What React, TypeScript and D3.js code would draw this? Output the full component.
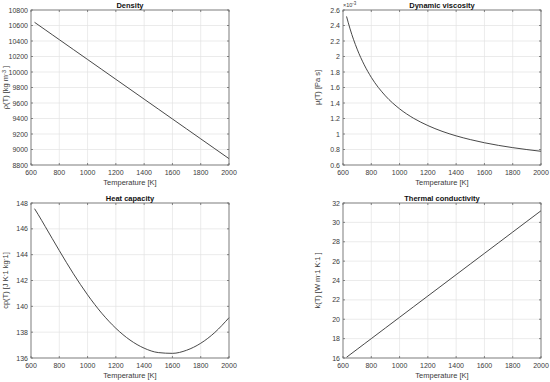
import React, { useEffect, useRef } from 'react';
import * as d3 from 'd3';

// temperature samples [K]
const temps = [625, 650, 700, 750, 800, 900, 1000, 1100, 1200, 1300, 1400, 1500, 1600, 1700, 1800, 1900, 2000];

const density = [10641.3, 10609.3, 10545.4, 10481.4, 10417.4, 10289.5, 10161.5, 10033.6, 9905.6, 9777.7, 9649.7, 9521.8, 9393.8, 9265.9, 9137.9, 9010.0, 8882.0];
// in units of 1e-3 Pa s
const viscosity = [2.517, 2.356, 2.095, 1.893, 1.731, 1.492, 1.325, 1.202, 1.109, 1.035, 0.976, 0.928, 0.887, 0.853, 0.824, 0.799, 0.777];
const heatCapacity = [147.56, 147.12, 146.19, 145.25, 144.32, 142.52, 140.89, 139.47, 138.3, 137.39, 136.76, 136.42, 136.36, 136.6, 137.14, 137.98, 139.12];
const conductivity = [16.075, 16.35, 16.9, 17.45, 18.0, 19.1, 20.2, 21.3, 22.4, 23.5, 24.6, 25.7, 26.8, 27.9, 29.0, 30.1, 31.2];

const xTicks = [600, 800, 1000, 1200, 1400, 1600, 1800, 2000];
const densityTicks = d3.range(8800, 10801, 200);
const viscTicks = [0.6, 0.8, 1, 1.2, 1.4, 1.6, 1.8, 2, 2.2, 2.4, 2.6];
const cpTicks = [136, 138, 140, 142, 144, 146, 148];
const kTicks = [16, 18, 20, 22, 24, 26, 28, 30, 32];

const titles = ['Density', 'Dynamic viscosity', 'Heat capacity', 'Thermal conductivity'];

const FONT = '"Liberation Sans", Arial, sans-serif';

const App = () => {
  const ref = useRef<SVGSVGElement>(null);

  useEffect(() => {
    const svg = d3.select(ref.current);
    svg.selectAll('*').remove();

    const panels = [
      { title: titles[0], values: density, ticks: densityTicks, left: 31, top: 10, ylab: ['ρ(T) [kg m', '-3', ' ]'], exp: false },
      { title: titles[1], values: viscosity, ticks: viscTicks, left: 343, top: 10, ylab: ['μ(T) [Pa s]'], exp: true },
      { title: titles[2], values: heatCapacity, ticks: cpTicks, left: 31, top: 203, ylab: ['cp(T) [J K', '-', '1 kg', '-', '1]'], exp: false },
      { title: titles[3], values: conductivity, ticks: kTicks, left: 343, top: 203, ylab: ['k(T) [W m', '-', '1 K', '-', '1 ]'], exp: false },
    ];
    const w = 198, h = 155;

    panels.forEach(p => {
      const g = svg.append('g').attr('transform', `translate(${p.left},${p.top})`);
      const x = d3.scaleLinear().domain([600, 2000]).range([0, w]);
      const y = d3.scaleLinear().domain([p.ticks[0], p.ticks[p.ticks.length - 1]]).range([h, 0]);

      // grid
      g.selectAll('.gx').data(xTicks).enter().append('line')
        .attr('x1', d => x(d)).attr('x2', d => x(d)).attr('y1', 0).attr('y2', h)
        .attr('stroke', '#e3e3e3').attr('stroke-width', 0.7);
      g.selectAll('.gy').data(p.ticks).enter().append('line')
        .attr('y1', d => y(d)).attr('y2', d => y(d)).attr('x1', 0).attr('x2', w)
        .attr('stroke', '#e3e3e3').attr('stroke-width', 0.7);

      // curve
      const line = d3.line<number>()
        .x((d, i) => x(temps[i]))
        .y(d => y(d))
        .curve(d3.curveMonotoneX);
      g.append('path').datum(p.values).attr('d', line)
        .attr('fill', 'none').attr('stroke', '#333').attr('stroke-width', 0.9);

      // box
      g.append('rect').attr('width', w).attr('height', h)
        .attr('fill', 'none').attr('stroke', '#6a6a6a').attr('stroke-width', 0.8);

      // inward ticks
      xTicks.forEach(t => {
        g.append('line').attr('x1', x(t)).attr('x2', x(t)).attr('y1', h).attr('y2', h - 2).attr('stroke', '#6a6a6a').attr('stroke-width', 0.8);
        g.append('line').attr('x1', x(t)).attr('x2', x(t)).attr('y1', 0).attr('y2', 2).attr('stroke', '#6a6a6a').attr('stroke-width', 0.8);
      });
      p.ticks.forEach(t => {
        g.append('line').attr('y1', y(t)).attr('y2', y(t)).attr('x1', 0).attr('x2', 2).attr('stroke', '#6a6a6a').attr('stroke-width', 0.8);
        g.append('line').attr('y1', y(t)).attr('y2', y(t)).attr('x1', w).attr('x2', w - 2).attr('stroke', '#6a6a6a').attr('stroke-width', 0.8);
      });

      // tick labels
      g.selectAll('.xl').data(xTicks).enter().append('text')
        .attr('x', d => x(d)).attr('y', h + 10)
        .attr('text-anchor', 'middle').attr('font-size', 7).attr('font-family', FONT).attr('fill', '#3a3a3a')
        .text(d => d);
      g.selectAll('.yl').data(p.ticks).enter().append('text')
        .attr('x', -3).attr('y', d => y(d) + 2.5)
        .attr('text-anchor', 'end').attr('font-size', 7).attr('font-family', FONT).attr('fill', '#3a3a3a')
        .text(d => d);

      if (p.exp) {
        const e = g.append('text').attr('x', 0).attr('y', -3).attr('font-size', 5.5).attr('font-family', FONT).attr('fill', '#3a3a3a');
        e.append('tspan').text('×10');
        e.append('tspan').attr('dy', -2).attr('font-size', 4.5).text('-3');
      }

      // title
      g.append('text').attr('x', w / 2).attr('y', -2.5)
        .attr('text-anchor', 'middle').attr('font-size', 7.5).attr('font-weight', 'bold')
        .attr('font-family', FONT).attr('fill', '#111').text(p.title);

      // x label
      g.append('text').attr('x', w / 2).attr('y', h + 20)
        .attr('text-anchor', 'middle').attr('font-size', 7.5).attr('font-family', FONT).attr('fill', '#3a3a3a')
        .text('Temperature [K]');

      // y label
      const yl = g.append('text')
        .attr('transform', `translate(-23,${h / 2}) rotate(-90)`)
        .attr('text-anchor', 'middle').attr('font-size', 7.5).attr('font-family', FONT).attr('fill', '#3a3a3a');
      p.ylab.forEach((s, i) => {
        const sup = i % 2 === 1;
        yl.append('tspan').attr('dy', sup ? -2.5 : (i > 0 ? 2.5 : 0))
          .attr('font-size', sup ? 5.5 : 7.5).text(s);
      });
    });
  }, []);

  return (
    <svg ref={ref} width={550} height={382}
      style={{ position: 'fixed', left: 0, top: 0, background: '#fff' }} />
  );
};

export default App;
